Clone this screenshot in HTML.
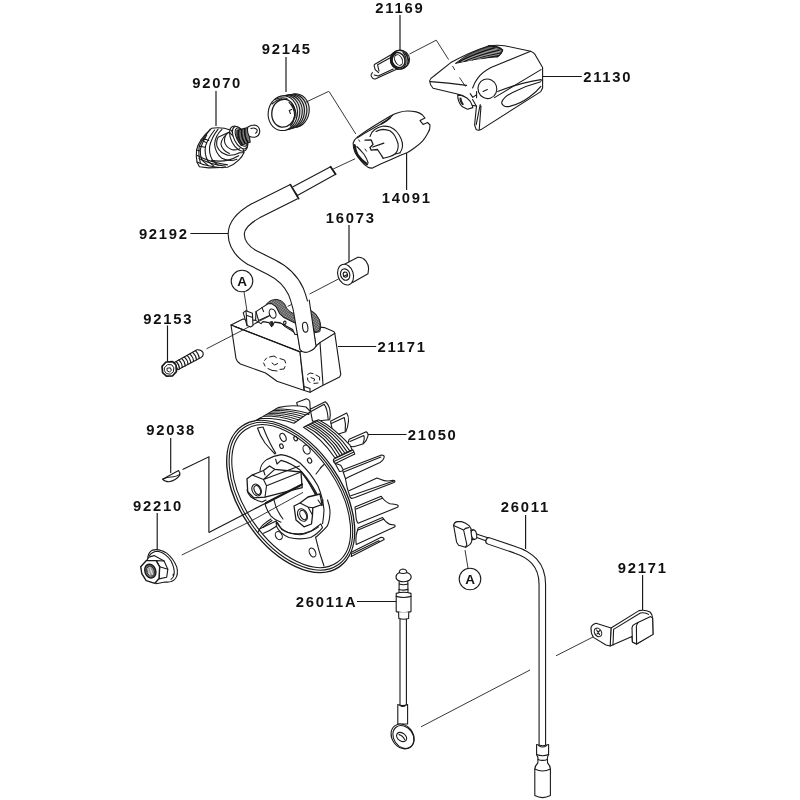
<!DOCTYPE html>
<html><head><meta charset="utf-8"><title>Parts diagram</title>
<style>
html,body{margin:0;padding:0;background:#fff;}
body{width:800px;height:800px;overflow:hidden;font-family:"Liberation Sans",sans-serif;}
svg{display:block;filter:blur(0.45px);}
.lb{font-family:"Liberation Sans",sans-serif;font-weight:bold;font-size:14.8px;letter-spacing:1.75px;fill:#111;}
.ld{fill:none;stroke:#161616;stroke-width:1.15;}
.ld2{fill:none;stroke:#222;stroke-width:0.9;}
.s{fill:none;stroke:#1a1a1a;stroke-width:1.1;stroke-linecap:round;stroke-linejoin:round;}
.sw{fill:#fff;stroke:#1a1a1a;stroke-width:1.1;stroke-linecap:round;stroke-linejoin:round;}
.t{fill:none;stroke:#333;stroke-width:0.8;stroke-linecap:round;stroke-linejoin:round;}
.tw{fill:#fff;stroke:#333;stroke-width:0.8;stroke-linecap:round;stroke-linejoin:round;}
.d{fill:none;stroke:#222;stroke-width:1;stroke-dasharray:5 3;}
.k{fill:#222;stroke:none;}
</style></head>
<body>
<svg width="800" height="800" viewBox="0 0 800 800">
<rect x="0" y="0" width="800" height="800" fill="#fff"/>
<text class="lb" x="375.30" y="12.50">21169</text>
<text class="lb" x="261.80" y="54.00">92145</text>
<text class="lb" x="192.20" y="88.00">92070</text>
<text class="lb" x="583.20" y="82.00">21130</text>
<text class="lb" x="381.80" y="203.40">14091</text>
<text class="lb" x="138.90" y="238.90">92192</text>
<text class="lb" x="325.80" y="223.00">16073</text>
<text class="lb" x="143.30" y="323.50">92153</text>
<text class="lb" x="377.60" y="352.00">21171</text>
<text class="lb" x="146.20" y="434.50">92038</text>
<text class="lb" x="407.70" y="440.20">21050</text>
<text class="lb" x="133.10" y="511.00">92210</text>
<text class="lb" x="500.80" y="512.00">26011</text>
<text class="lb" x="295.80" y="607.00">26011A</text>
<text class="lb" x="617.80" y="573.00">92171</text>
<path class="ld" d="M400.0 15.0L400.0 50.0M286.0 57.0L286.0 92.0M216.0 91.0L216.0 126.0M542.7 76.5L581.8 76.5M406.6 152.6L406.6 190.0M190.4 233.5L228.9 233.5M349.0 225.0L349.0 262.0M167.5 325.5L167.5 361.5M338.0 346.5L376.2 346.5M170.7 438.0L170.7 473.0M367.6 434.5L406.5 434.5M157.2 513.0L157.2 550.0M525.6 515.0L525.6 549.0M357.0 601.5L396.0 601.5M642.6 575.0L642.6 610.0"/>
<!-- 01_spring21169.svg -->
<g id="spring21169">
<path class="s" d="M 397.5 51.0 L 374.8 64.2 Q 373.8 65.0 374.2 66.2 L 375.2 69.6 L 378.6 72.6 M 393.8 55.8 L 377.6 64.8 L 379.0 71.0 M 397.2 69.0 L 375.2 79.0 Q 373.6 79.2 372.6 78.2 L 371.2 76.0 Q 370.6 74.2 372.4 72.6 M 393.2 69.0 L 378.2 76.0 L 374.2 75.0"/>
<ellipse class="sw" cx="400.2" cy="59.6" rx="9.4" ry="9.4" transform="rotate(-25 400.2 59.6)"/>
<ellipse class="s" cx="399.4" cy="59.8" rx="9" ry="9.4" transform="rotate(-25 399.4 59.8)"/>
<ellipse cx="398.4" cy="60" rx="6.4" ry="7.8" transform="rotate(-25 398.4 60)" fill="none" stroke="#1a1a1a" stroke-width="1.5"/>
<path d="M395.6 52.6Q390.6 56 391.6 62.6Q393.4 67.6 398.6 68.6" fill="none" stroke="#1a1a1a" stroke-width="2.6"/>
<ellipse cx="398.6" cy="60" rx="3.6" ry="5.6" transform="rotate(-25 398.6 60)" fill="#fff" stroke="#1a1a1a" stroke-width="1"/>
<path class="s" d="M 403.0 52.5 Q 406.8 56.5 406.0 63.5 Q 405.0 67.0 402.0 68.8 M 405.2 53.5 Q 408.6 58.0 407.8 63.5"/>
<path class="ld2" d="M409.5 54L436.3 40.2L448.6 59.6"/>
</g>
<!-- 02_cover21130.svg -->
<g id="cover21130">
<!-- small lug under -->
<path class="sw" d="M457.8 94.2Q457.2 101 462 106.5L467.5 109.2L472.8 107.6L471 99Z"/>
<path class="k" d="M459.6 97.5Q458.8 101.5 462.4 105.2L464 104.6Q461.4 101 461.4 97.8Z"/>
<!-- main outline -->
<path class="sw" d="M429.6 81Q430.2 78.2 434 76L450.8 62.6Q468 52.6 488.4 45.9Q497 44.6 504.4 45.7L530.6 51.2Q533.6 52.2 535 54.4L542.6 67.6L542.6 88L540.8 91.6L481 129.6Q478.4 130.8 476.2 129.6L474.6 125L476.2 108.6L476.6 106L472.2 105.4Q470.6 100.6 467.2 98.2Q463 95 457.4 94L433 88.2Q430.2 85.6 429.6 81Z"/>
<!-- front face boundary -->
<path class="s" d="M530.6 51.2L491 67.6Q482.4 72 477.8 78.2Q474.4 82.6 472.6 88"/>
<!-- nose crease -->
<path class="s" d="M430.4 81.6Q448 82.6 466.6 85.4"/>
<!-- hatch (vent) -->
<path d="M455.4 63.4Q463 57 472.6 52.6Q481 48.6 490 46.2Q498 46.2 502.6 50Q501.6 54 497.4 56.8Q486 57.6 474 59.6Q464 61.4 455.4 63.4Z" fill="#6a6a6a" stroke="#1a1a1a" stroke-width="1"/>
<path d="M459 61.8Q475 53.4 495 47.6 M464 61.4Q480 54.6 499.6 50 M472 60Q486 55.6 501 53 M481 58.6Q491 56.4 499.6 55.4" fill="none" stroke="#111" stroke-width="1.1"/>
<path d="M461.6 61.7Q477 54.2 497 48.8 M468 60.8Q483 55.2 500.4 51.4 M476.6 59.4Q488.6 56 500.4 54.2" fill="none" stroke="#ddd" stroke-width="0.5"/>
<path class="s" d="M488.4 45.9Q498 45.6 502.8 49.8Q501.6 54.4 497 57"/>
<!-- side crease lines -->
<path class="s" d="M494.4 97.6L541 69.6"/>
<path class="s" d="M497.6 91.6Q520 82.6 541 79.6L542.6 81"/>
<!-- recess ellipse -->
<path class="s" d="M540.8 81.8Q527 85.4 512.6 92.4Q503 97.4 501.6 102.6Q502.8 107.6 509.6 106.4Q520 104 529.4 97Q536.6 92 540.8 86.4"/>
<!-- bottom fin -->
<path class="s" d="M480.2 104.6L476.2 124.6 M481 106L479.2 129.8 M472.6 99.4L476.4 106.2"/>
<!-- circle -->
<ellipse class="sw" cx="487.4" cy="88.8" rx="9.4" ry="9.8" transform="rotate(-20 487.4 88.8)"/>
<path class="s" d="M483 91.4L487.4 89.6"/>
<!-- little L marks -->
<path class="s" d="M470.2 93.6L472.8 97.4L476.6 94.6 M476.6 91.6L476.6 97.8"/>
<!-- dashed leader inside -->
<path class="ld2" d="M452.5 66L454.8 70 M459.5 77.5L465.5 86.5"/>
</g>
<!-- 03_cap14091.svg -->
<g id="cap14091">
<path class="ld2" d="M329 91.4L355.8 134"/>
<path class="sw" d="M 353.1 143.1 Q 354.0 139.8 357.5 136.9 L 367.5 130.0 L 377.5 123.8 L 390.0 116.2 Q 394.5 113.8 398.8 112.5 Q 403.1 111.0 407.5 111.0 Q 412.2 111.0 416.2 111.9 Q 420.0 113.0 422.5 115.0 L 425.0 118.1 L 420.0 120.6 L 423.1 124.4 L 427.5 122.5 L 430.0 125.0 Q 430.5 129.4 427.5 133.8 Q 425.5 137.5 422.5 141.2 Q 419.0 144.8 415.0 147.5 Q 411.5 150.2 407.5 152.5 L 400.0 155.6 L 390.0 160.0 L 381.2 163.8 L 372.5 168.1 Q 369.8 168.2 367.5 166.9 Q 364.0 164.8 361.2 161.2 Q 357.2 156.5 355.0 152.5 Q 353.2 148.0 353.1 143.1 Z"/>
<path class="s" d="M 357.5 137.8 Q 363.8 133.5 369.0 130.8 Q 376.2 126.5 381.5 123.8 Q 386.5 121.0 389.8 118.2 Q 391.2 116.8 392.5 115.2"/>
<path class="s" d="M 381.5 123.8 Q 386.5 121.0 390.0 117.8" style="stroke-width:1.7"/>
<path class="s" d="M 370.0 136.5 Q 371.2 132.2 374.4 129.8 Q 378.1 126.8 382.5 126.2 Q 386.5 126.0 390.2 127.0 Q 394.0 128.8 396.5 131.5 Q 399.8 135.2 401.2 139.0 Q 402.8 143.0 402.5 146.5 Q 402.0 150.0 400.0 152.8"/>
<path class="s" d="M 376.0 131.5 Q 379.0 129.8 382.8 129.4 Q 386.5 129.5 390.0 130.8 Q 393.0 133.0 395.0 136.2 Q 397.2 140.2 398.1 144.0 Q 398.5 147.5 397.5 150.2 Q 396.5 152.5 395.0 154.0"/>
<path class="s" d="M 383.1 158.2 Q 386.5 157.8 390.0 156.5 Q 393.0 155.5 395.0 154.0 Q 397.8 153.5 400.0 152.8"/>
<path class="s" d="M 365.0 140.2 L 371.2 140.0 L 373.1 144.4 L 370.0 147.5 L 371.2 150.2 L 377.5 149.5 L 381.2 155.0 L 383.1 158.2 M 372.8 147.0 L 383.8 143.1" style="stroke-width:1.3"/>
<path class="s" d="M 358.8 139.8 L 359.8 141.5 M 365.0 149.0 L 366.5 151.2" style="stroke-width:.9"/>
<path class="s" d="M 354.5 145.2 Q 355.0 150.0 357.5 155.0 Q 361.5 160.8 367.0 164.2" style="stroke-width:2.4"/>
<path class="s" d="M 356.8 146.5 Q 360.0 149.5 363.8 154.0 Q 366.9 158.5 368.2 163.0"/>
<path class="ld2" d="M355 158.8L333.2 169"/>
</g>
<!-- 04_spring92145.svg -->
<g id="spring92145">
<ellipse cx="295.2" cy="110.6" rx="14.0" ry="16.8" transform="rotate(8 295.2 110.6)" fill="#e2e2e2" stroke="#1a1a1a" stroke-width="1.1"/>
<ellipse cx="292.7" cy="111.1" rx="14.1" ry="16.9" transform="rotate(8 292.7 111.1)" fill="#e2e2e2" stroke="#1a1a1a" stroke-width="1.1"/>
<ellipse cx="290.2" cy="111.6" rx="14.2" ry="17.0" transform="rotate(8 290.2 111.6)" fill="#e2e2e2" stroke="#1a1a1a" stroke-width="1.1"/>
<ellipse cx="287.8" cy="112.2" rx="14.4" ry="17.2" transform="rotate(8 287.8 112.2)" fill="#e2e2e2" stroke="#1a1a1a" stroke-width="1.1"/>
<ellipse cx="285.3" cy="112.7" rx="14.5" ry="17.3" transform="rotate(8 285.3 112.7)" fill="#e2e2e2" stroke="#1a1a1a" stroke-width="1.1"/>
<ellipse cx="282.8" cy="113.2" rx="14.6" ry="17.4" transform="rotate(8 282.8 113.2)" fill="#fff" stroke="#1a1a1a" stroke-width="1.1"/>
<ellipse class="sw" cx="283.4" cy="113.2" rx="11.6" ry="14" transform="rotate(8 283.4 113.2)" style="stroke-width:1.3"/>
<path class="s" d="M275 99.6Q281 96.6 287 98.6 M272 104Q276.6 99.6 282 99"/>
<path class="s" d="M289 102.4Q294.4 107.6 294.6 115.4Q294.2 122 290.4 126 M291.6 109.6L289.2 110.4L290.4 113.6 M292 104.4Q296.6 109.6 296 118"/>
<path class="ld2" d="M305.4 102.4L328.6 91.4"/>
</g>
<!-- 05_plug92070.svg -->
<g id="plug92070">
<path class="sw" d="M 211.6 128.3 Q 205.0 133.9 201.2 139.6 Q 197.5 145.2 196.6 149.9 Q 195.8 155.5 197.0 162.1 L 199.4 166.7 L 208.7 167.9 L 227.5 167.2 Q 234.1 164.9 238.7 160.2 Q 242.5 156.4 243.9 152.7 L 231.2 130.2 Q 220.9 126.6 211.6 128.3 Z"/>
<path class="s" d="M 214.6 130.0 Q 207.8 138.6 205.5 146.1 Q 204.1 153.6 207.8 161.1 L 213.9 166.2 M 206.7 135.3 Q 201.7 143.3 200.3 149.9 Q 199.8 155.5 202.2 160.4 L 208.3 165.6 M 201.2 139.7 L 206.1 142.6"/>
<path class="s" d="M 197.3 155.5 Q 208.7 161.9 227.5 164.9 M 197.0 162.1 Q 206.9 166.9 222.8 167.7 M 211.7 160.4 Q 225.6 163.2 238.7 155.7 M 196.6 149.9 L 200.1 151.0"/>
<path class="sw" d="M 218.1 137.2 Q 215.5 142.4 217.4 147.2 Q 220.2 152.9 227.5 155.1 Q 234.1 155.7 238.9 152.9 L 243.9 152.5 L 242.5 146.1 L 229.4 132.1 Z"/>
<path class="s" d="M 226.1 134.5 Q 223.6 139.1 224.9 143.1 Q 227.0 148.0 232.2 149.7 Q 236.9 150.4 239.9 148.6"/>
<path class="s" d="M 210.4 129.1 Q 203.1 138.2 199.2 146.1 Q 198.1 155.5 200.5 163.2 M 218.1 129.2 Q 211.6 137.7 209.7 146.1 Q 208.7 153.6 212.5 160.2 L 218.1 165.3 M 203.1 138.2 L 208.7 140.5 M 199.2 146.1 L 205.0 147.2 M 198.9 158.3 Q 208.7 164.1 225.6 166.3"/>
<path class="s" d="M 221.9 129.4 Q 215.1 135.8 214.6 144.2 Q 215.1 152.7 221.9 158.3 Q 229.4 162.1 236.9 159.2 M 229.4 132.1 Q 221.9 136.7 220.9 144.2 Q 222.3 150.8 229.4 153.6"/>
<ellipse class="s" cx="238.6" cy="138.6" rx="7.4" ry="13.6" transform="rotate(-27 238.6 138.6)"/>
<ellipse class="sw" cx="240.1" cy="137.7" rx="6" ry="12.2" transform="rotate(-27 240.1 137.7)"/>
<ellipse class="s" cx="241.2" cy="137.1" rx="4.6" ry="10" transform="rotate(-27 241.2 137.1)"/>
<path d="M 236.9 130.4 L 248.1 127.4 L 250.2 142.2 L 241.1 145.4 Q 235.9 138.6 236.9 130.4 Z" fill="#777" stroke="#1a1a1a" stroke-width="1.1"/>
<path d="M 238.7 130.0 Q 237.3 138.2 242.5 144.7 M 241.7 129.2 Q 240.6 137.2 245.3 143.8 M 244.8 128.3 Q 243.9 136.3 248.1 142.8" fill="none" stroke="#111" stroke-width="1.6"/>
<path class="sw" d="M 247.9 127.0 Q 250.9 125.0 254.7 125.0 Q 259.4 126.0 259.8 131.1 Q 259.4 136.3 254.7 137.3 Q 250.9 137.5 248.9 135.8 Q 246.7 131.1 247.9 127.0 Z"/>
<path class="s" d="M 250.9 128.5 Q 254.7 127.0 257.0 129.7 Q 257.7 132.1 255.6 133.2"/>
</g>
<!-- 06_bushing16073.svg -->
<g id="bushing16073">
<path class="sw" d="M343.6 264.8L357.4 257.4Q362 256.6 365.8 260.8Q368.6 264.6 368.6 268.6L368 273.8L352.6 282.6Z"/>
<ellipse class="sw" cx="345.6" cy="274.6" rx="7.7" ry="10.6" transform="rotate(-18 345.6 274.6)"/>
<ellipse class="s" cx="345.2" cy="274.6" rx="4.6" ry="5.8" transform="rotate(-18 345.2 274.6)"/>
<ellipse class="s" cx="345.4" cy="274.6" rx="2.1" ry="2.6" transform="rotate(-18 345.4 274.6)"/>
<path class="s" d="M343.6 276.4L347.4 274.4"/>
<path class="ld2" d="M338.8 278.8L309.6 294"/>
</g>
<!-- 08_coil21171.svg -->
<g id="coil21171">
<!-- axis line from screw through hole to bushing -->
<!-- box: top face -->
<path class="sw" d="M231 325L243 319L324.4 327.6L333.6 331.4Q334.8 332 334.8 333.4L320 342.6L316 346L300 352Z"/>
<!-- front (left) face -->
<path class="sw" d="M231 325L300 352L303.8 388.6L304.4 390.4L277 381.2L265.6 373L240.4 364Q236.8 361.6 236 358.6Z"/>
<!-- narrow front-right face + right face -->
<path class="sw" d="M300 352L316 346L320 342.6L334.8 333.4L340.8 374.6L339.6 377L322.6 385.6L310 392.2L304.4 390.4L304 386.4Z"/>
<path class="s" d="M320 342.6L323 384.6"/>
<path class="s" d="M304 386.4L310 388.6L310 392.2"/>
<path class="ld2" d="M206.5 348.8L269.6 316.2"/>
<!-- top rim inner line -->
<path class="s" d="M234.6 326.4L299.6 351.6"/>
<!-- coil winding (cross-hatched) -->
<defs><pattern id="xh" width="2" height="2" patternUnits="userSpaceOnUse" patternTransform="rotate(35)"><rect width="2" height="2" fill="#aaa"/><path d="M0 0H2M0 0V2" stroke="#222" stroke-width="0.9"/></pattern></defs>
<path d="M266.6 304Q270 299.4 277 299.4Q282.6 300.4 284.6 304Q286.6 309.6 290 311.6L298 316.4L320 322Q321.6 327 319.8 331.6L300 336L284 326L270 312Z" fill="url(#xh)" stroke="#222" stroke-width="1"/>
<path d="M309.6 309.6Q316.6 313 319.6 320Q321 326 319.6 329.6Q317.6 332.6 314.6 332L311 322Z" fill="url(#xh)" stroke="#222" stroke-width="1"/>
<!-- lamination / bracket on top -->
<path class="sw" d="M255.6 320.4L256 311.6L262 307.6L268 303.8L271.6 303.6L276 306.6L279.6 313.6L284 317.6L296 323.4L298.6 334.6L295 334.4L292.6 329.6L279.6 322.6L274.6 322L271.6 326.6L269 322.6L263 321.6L261 323.6Z"/>
<path class="s" d="M256 311.6L258.6 320.6L269.6 315.6 M262 307.6L263.6 311.6"/>
<path class="k" d="M269.6 321.6L272.6 321L274 325L271.6 326.6Z"/>
<ellipse class="sw" cx="272.6" cy="313.6" rx="3.2" ry="4.8" transform="rotate(-20 272.6 313.6)"/>
<ellipse class="s" cx="284.8" cy="322.8" rx="1.2" ry="1.7"/>
<path class="ld2" d="M287.6 306.4L291.6 304.4"/>
<path class="ld2" d="M254.6 323.6L269.2 316.2"/>
<!-- terminal tab -->
<path class="sw" d="M243.2 312.6L246 310.8L252.4 313.2L253 325.6L250.6 327L247 325.4Z"/>
<path class="s" d="M246 310.8L247 325.4 M247 315.6L252.6 317.6"/>
<!-- dashed hidden shapes -->
<path class="s" d="M264.6 360.4L266.6 358 M269.6 357L274 356L276.4 357.6 M280 358.6L284.6 360L285.6 363 M285 366.6L284 369L280 369.4 M277 371L272 370.4L268 368.6 M265 366L263.6 363 M272 363L274.6 365L277.6 363.6" style="stroke-width:1"/>
<path class="s" d="M307.6 374.6L310 373L313 373.6 M316 375L319.6 377L319.6 380 M318 383L314 383.4 M310 382.6L307.6 380L307.6 378 M311 377.6L314.6 379L314 381" style="stroke-width:1"/>
</g>
<!-- 08b_wire92192.svg -->
<g id="wire92192">
<!-- inner conductor -->
<path class="sw" d="M291.6 187.4L330.6 166.8L335.6 174.2L297.4 195.4Z"/>
<path class="s" d="M330.6 166.8L335.6 174.2" style="stroke-width:1.8"/>
<!-- sheath: black then white core -->
<path d="M294 191.6L256 210.6Q236.4 221.6 236.2 234Q236.4 248 252 257.6Q262 262.4 271 267Q288.6 275.6 296 291.6Q300.6 303 304.4 324L308 348" fill="none" stroke="#1a1a1a" stroke-width="17.2" stroke-linecap="butt" stroke-linejoin="round"/>
<path d="M294.9 191.1L256 210.6Q236.4 221.6 236.2 234Q236.4 248 252 257.6Q262 262.4 271 267Q288.6 275.6 296 291.6Q300.6 303 304.4 324L308.2 349" fill="none" stroke="#fff" stroke-width="15" stroke-linecap="butt" stroke-linejoin="round"/>
<path class="s" d="M290.4 184.6L298.6 198.6" style="stroke-width:1.8"/>
</g>
<!-- 09_wireboot.svg -->
<g id="wireboot">
<!-- boot lower part over coil -->
<path class="sw" d="M293.4 312L300 349.6Q303 353.4 308.6 351.6Q314.6 349.6 316 346L309.4 300Z" style="stroke:none"/>
<path class="s" d="M293.6 312L300 349.6Q303 353.6 308.6 351.8Q314.6 349.6 316 346L309.2 300"/>
<ellipse class="sw" cx="305.2" cy="327.2" rx="2.6" ry="5" transform="rotate(-8 305.2 327.2)"/>
</g>
<!-- 10_screw92153.svg -->
<g id="screw92153">
<path class="sw" d="M174.4 362.4L197 349.8Q201.4 349.4 203 352.6Q203.8 355.8 201 357.4L177.8 369.8Z"/>
<path class="s" d="M176.1 361.5Q179.4 364.6 179.5 368.9 M178.8 359.9Q182.2 363.1 182.3 367.4 M181.6 358.4Q185.0 361.5 185.2 365.9 M184.3 356.9Q187.8 360.0 188.0 364.4 M187.1 355.3Q190.5 358.5 190.8 362.8 M189.8 353.8Q193.3 357.0 193.6 361.3 M192.6 352.3Q196.1 355.4 196.5 359.8 M195.3 350.7Q198.9 353.9 199.3 358.3"/>
<path class="sw" d="M162 366.4L166 362L172.6 361.6L176 365L176.4 371.6L172.4 376L166.4 376.2L162.6 372.6Z" style="stroke-width:1.7"/>
<path class="s" d="M164.6 367.6L167.6 364.6L171.8 364.8L173.8 367.8L173.4 371.8L170.2 374.2L166.4 373.6L164.6 371Z M167.4 368.2L170.4 367.8L171.4 370.4L169.4 372L167.4 371Z" style="stroke-width:1"/>
</g>
<!-- 11_circleA.svg -->
<g id="circleA">
<circle class="sw" cx="242" cy="281" r="10.8"/>
<text x="242" y="286" text-anchor="middle" style="font-family:'Liberation Sans',sans-serif;font-weight:bold;font-size:13.5px;fill:#111">A</text>
<path class="ld2" d="M244 291.8L247 311"/>
<circle class="sw" cx="470" cy="579" r="10.8"/>
<text x="470" y="584" text-anchor="middle" style="font-family:'Liberation Sans',sans-serif;font-weight:bold;font-size:13.5px;fill:#111">A</text>
<path class="ld2" d="M465 550L468 568.2"/>
</g>
<!-- 12_flywheel.svg -->
<g id="flywheel21050">
<path class="sw" d="M 296.7 402.5 L 306.5 398.7 Q 309.2 399.5 309.8 401.7 L 310.2 409.2 L 308.7 414.5 L 299.0 411.5 Z M 310.2 409.2 L 325.2 401.7 Q 328.7 404.3 329.9 410.0 Q 330.8 415.2 329.7 419.7 L 312.5 421.2 Z M 330.5 421.2 L 346.7 413.0 Q 348.8 416.0 348.5 421.2 Q 347.9 427.2 345.8 431.7 L 333.5 435.5 Z M 349.2 439.2 L 366.2 431.7 Q 368.6 433.4 368.0 435.8 Q 366.8 440.6 363.5 443.7 L 353.7 446.7 L 347.0 446.0 Z"/>
<path class="s" d="M 311.0 411.5 L 324.2 404.3 Q 327.5 408.5 328.2 419.7 M 331.2 423.5 L 344.3 417.5 Q 346.1 423.5 345.2 431.3 M 350.0 441.5 L 363.8 435.5 Q 365.0 438.5 363.0 443.3"/>
<path class="sw" d="M 342.5 470.0 L 381.5 455.0 Q 384.2 455.0 384.2 456.8 Q 383.9 460.1 380.0 462.5 L 349.2 476.7 L 345.5 478.7 Z"/>
<path class="s" d="M 343.7 472.1 L 380.9 457.1"/>
<path class="sw" d="M 345.5 479.0 Q 346.5 487.0 350.0 497.0 L 351.5 498.5 L 355.0 497.5 L 394.0 482.5 Q 395.4 481.5 394.8 480.8 L 393.0 480.2 Q 386.0 482.0 381.0 479.5 L 377.0 478.0 L 349.5 490.5"/>
<path class="s" d="M 350.8 495.8 L 393.8 481.0"/>
<path class="sw" d="M 355.0 506.9 L 381.2 496.2 Q 385.0 501.9 390.0 503.8 Q 395.0 504.4 397.5 505.0 Q 399.0 506.0 397.5 507.2 L 358.1 523.2 Q 357.0 522.5 356.2 518.8 Z"/>
<path class="s" d="M 356.2 509.0 L 382.2 498.2"/>
<path class="sw" d="M 358.1 528.1 L 382.5 517.5 Q 385.6 522.5 390.0 524.4 L 394.5 525.0 Q 395.8 526.0 394.5 527.1 L 356.2 544.5 Q 355.6 540.0 356.2 535.0 Z"/>
<path class="s" d="M 357.5 530.2 L 383.5 519.2"/>
<path class="sw" d="M 351.9 551.9 L 381.2 537.2 Q 384.0 537.5 384.2 539.5 L 351.2 556.5 Z"/>
<path class="s" d="M 352.8 553.5 L 378.8 540.8 L 379.5 541.5"/>
<path class="sw" d="M 250.0 423.8 L 253.0 422.0 L 261.0 417.6 L 278.0 407.6 Q 292.0 404.2 306.0 407.0 L 310.4 411.6 L 294.0 423.2 Q 280.0 418.2 261.0 418.2 Z"/>
<path class="s" d="M 263.4 416.3 Q 278.9 415.1 296.3 421.5 M 265.9 414.9 Q 281.3 413.8 298.7 419.9 M 268.3 413.4 Q 283.7 412.4 301.0 418.2 M 270.7 412.0 Q 286.0 411.1 303.4 416.6 M 273.1 410.5 Q 288.4 409.7 305.7 414.9 M 275.6 409.1 Q 290.8 408.4 308.1 413.3" style="stroke-width:1"/>
<path class="sw" d="M 303.5 427.2 L 318.5 419.7 Q 333.5 427.2 350.0 445.2 L 352.2 449.7 L 335.0 458.0 Q 322.2 438.5 303.5 427.2 Z"/>
<path class="s" d="M 305.6 426.2 Q 326.3 436.5 337.4 456.8 M 307.8 425.1 Q 328.4 435.5 339.9 455.6 M 309.9 424.1 Q 330.5 434.6 342.3 454.4 M 312.0 422.9 Q 332.7 433.5 344.9 453.3 M 314.1 421.8 Q 335.0 432.5 347.3 452.1 M 316.4 420.8 Q 337.1 431.6 349.8 450.9"/>
<path class="sw" d="M 335.0 463.2 L 339.5 471.5 Q 341.7 471.8 343.2 469.7 L 340.7 465.2 Z"/>
<path class="sw" d="M 333.5 459.2 L 353.0 449.9 L 354.8 454.1 L 335.3 463.4 Q 332.9 462.2 333.5 459.2 Z"/>
<path class="s" d="M 334.4 461.3 L 353.9 452.0"/>
<ellipse class="sw" cx="290.7" cy="496.4" rx="85.6" ry="50.6" transform="rotate(55.4 290.7 496.4)" style="stroke-width:1.35"/>
<ellipse class="s" cx="290.9" cy="496.3" rx="83.2" ry="48.3" transform="rotate(55.4 290.9 496.3)"/>
<ellipse class="s" cx="291.2" cy="496.1" rx="80.7" ry="45.9" transform="rotate(55.4 291.2 496.1)"/>
<path class="s" d="M 257.5 428.0 Q 260.0 436.0 265.0 443.0 Q 270.0 449.0 275.0 454.0 M 263.0 427.0 Q 266.0 435.0 270.0 443.0 Q 273.0 449.0 275.8 453.2 M 257.5 428.0 L 263.0 427.0"/>
<path class="s" d="M 324.0 464.5 Q 321.0 467.0 319.5 469.5 L 316.0 474.0"/>
<path class="s" d="M 315.5 537.0 Q 319.0 552.0 324.0 566.0"/>
<path class="s" d="M 271.0 519.0 Q 264.0 523.5 261.5 526.5 Q 259.2 529.2 258.2 532.0 M 272.0 520.5 Q 266.0 524.5 263.0 527.5"/>
<ellipse class="s" cx="283.0" cy="437.4" rx="2.8" ry="4.3" transform="rotate(-25 283.0 437.4)"/>
<ellipse class="s" cx="281.5" cy="446.2" rx="1.7" ry="2.3" transform="rotate(-25 281.5 446.2)"/>
<ellipse class="s" cx="295.6" cy="438.6" rx="1.7" ry="2.3" transform="rotate(-25 295.6 438.6)"/>
<ellipse class="s" cx="306.6" cy="449.6" rx="3.3" ry="4.7" transform="rotate(-25 306.6 449.6)"/>
<ellipse class="s" cx="309.6" cy="460.6" rx="2" ry="2.7" transform="rotate(-25 309.6 460.6)"/>
<ellipse class="s" cx="278.8" cy="535.6" rx="3.2" ry="4.3" transform="rotate(-30 278.8 535.6)"/>
<ellipse class="s" cx="312.5" cy="552.5" rx="3.0" ry="4.8" transform="rotate(-25 312.5 552.5)"/>
<path class="s" d="M260 471 Q260.6 463.6 267 459.4 Q273.6 455.6 281 454.6 Q291 456 300 463 Q310 472 318 486 Q323 498 324 510 Q323.6 518 322.6 523.6"/>
<path class="s" d="M275.6 459.2 L277 464 L281 460.4 Q291 463 300 470 Q308 480 314 492 Q317.6 499 319 503.4"/>
<path class="s" d="M300.6 471 Q312 486 322 505.6 L318.6 497 Q311 482 302 472 Z" style="fill:#555"/>
<path class="s" d="M 327.5 500.0 Q 330.2 507.0 330.0 513.0 Q 329.6 521.5 327.2 526.2 Q 324.0 530.0 316.2 537.0"/>
<path class="sw" d="M 276.1 521.1 Q 278.9 528.6 288.0 532.5 Q 300.2 536.0 311.6 530.7 L 320.9 523.9 L 322.5 527.7 Q 317.7 534.0 310.7 537.5 Q 299.4 540.3 288.9 537.5 Q 280.1 534.0 276.4 526.3 Z"/>
<path class="s" d="M 277.5 522.5 L 281.7 529.5 M 281.7 529.5 Q 289.7 534.4 300.2 534.7 Q 309.9 533.3 318.6 526.9 M 260.0 528.8 L 276.1 521.1 M 263.5 533.3 Q 270.5 530.5 276.4 526.3"/>
<path class="s" d="M 265.0 504.0 Q 267.0 511.0 271.0 516.2 Q 275.0 520.5 281.0 522.2 M 274.0 500.0 Q 275.5 507.0 278.2 511.5 Q 280.5 516.0 283.0 519.0"/>
<path class="sw" style="stroke-width:1.3" d="M 247.0 478.7 L 252.2 475.0 L 263.5 470.5 L 269.5 466.0 L 274.7 469.3 L 301.0 472.0 L 301.7 481.7 L 302.2 487.7 L 265.0 497.2 L 253.7 497.8 L 247.7 491.8 Z"/>
<path class="s" d="M 252.2 475.0 L 263.5 479.5 L 266.5 485.8 L 265.0 497.2 M 263.5 479.5 L 274.7 469.3 M 263.5 470.5 L 265.0 475.0 M 266.5 485.8 L 301.0 472.0 M 263.5 479.5 L 299.5 466.0"/>
<ellipse class="sw" cx="256.6" cy="490" rx="4.4" ry="6.2" transform="rotate(-25 256.6 490)"/>
<ellipse class="s" cx="257.3" cy="490" rx="2.9" ry="4.6" transform="rotate(-25 257.3 490)"/>
<path class="s" d="M 247.0 490.0 Q 248.2 494.5 251.0 497.0 Q 256.0 500.5 262.0 502.0 L 266.0 500.0"/>
<path class="s" d="M266 503 L302 484.4" style="stroke-width:2.2"/>
<path class="ld" d="M208.9 532.5 L266 503"/>
<path class="ld2" d="M181.8 555 L250 521.6 L303 492.4"/>
<path class="sw" style="stroke-width:1.3" d="M 294.0 506.0 L 300.0 503.0 L 308.0 497.0 L 320.0 494.0 L 322.0 504.5 L 312.8 507.8 L 312.5 515.0 L 311.5 524.0 L 304.0 526.8 L 296.0 520.0 Z"/>
<path class="s" d="M 300.0 503.0 L 308.0 507.0 L 312.5 515.0 M 308.0 507.0 L 312.8 507.8 M 318.0 500.0 L 321.8 505.5 L 323.0 500.0"/>
<ellipse class="sw" cx="302.5" cy="515" rx="4.6" ry="6.6" transform="rotate(-25 302.5 515)"/>
<ellipse class="s" cx="303.2" cy="515" rx="3" ry="4.9" transform="rotate(-25 303.2 515)"/>
</g>
<!-- 13_key_nut.svg -->
<g id="key92038">
<path class="sw" d="M162.6 479.2L178.6 470.6Q180.4 472.6 179.6 475.4Q176 480.6 169 481.8Q164.6 481.8 162.6 479.2Z"/>
<path class="s" d="M162.6 479.2Q168 476.6 172 477Q176.6 476.6 179.8 474.4"/>
<path class="ld" d="M182.6 469.4L208.9 456.8L208.9 532.5"/>
</g>
<g id="nut92210">
<path class="sw" d="M 147.9 556.6 Q 148.8 552.2 152.7 550.1 Q 158.9 548.3 166.7 553.1 Q 173.7 558.8 176.8 567.1 Q 178.6 574.1 175.5 578.5 Q 172.0 582.9 165.0 582.0 L 156.2 583.7 L 147.5 566.2 Z"/>
<path class="s" d="M 149.4 555.6 Q 151.9 551.4 158.0 551.2 Q 165.9 553.1 171.1 561.0 Q 174.6 568.0 174.2 573.7 L 172.9 575.0 M 174.2 573.7 Q 173.7 577.6 171.1 579.4"/>
<path class="sw" d="M 146.6 560.6 L 148.8 557.1 L 154.1 555.6 L 164.1 561.0 L 167.8 569.3 L 166.7 577.2 L 159.0 578.9 L 159.6 566.7 L 156.2 560.6 Z"/>
<path class="s" d="M 156.2 560.6 L 164.1 561.0 M 159.6 566.7 L 167.8 569.3"/>
<path class="sw" d="M 140.7 566.7 L 146.4 560.6 L 156.2 560.6 L 159.7 566.9 L 159.0 578.5 L 154.9 583.3 L 146.2 580.7 L 141.8 573.7 Z" style="stroke-width:1.4"/>
<ellipse cx="150.3" cy="571.1" rx="5.4" ry="7" transform="rotate(-20 150.3 571.1)" fill="#777" stroke="#1a1a1a" stroke-width="1.4"/>
<ellipse cx="150.6" cy="571.1" rx="3.6" ry="5.2" transform="rotate(-20 150.6 571.1)" fill="#999" stroke="#222" stroke-width="0.9"/>
<path d="M 147.5 568.0 L 149.7 574.1 M 149.7 566.7 L 151.9 573.7 M 147.9 572.4 L 151.0 576.7 M 150.6 569.7 L 152.9 575.0" fill="none" stroke="#eee" stroke-width="0.7"/>
</g>
<!-- 14_lead26011A.svg -->
<g id="lead26011A">
<!-- long leader through ring -->
<path class="ld2" d="M421 726.8L530 670 M556 655.8L593 637"/>
<!-- wire -->
<path class="sw" d="M400 618L400 706L406.4 706L406.4 618Z"/>
<!-- connector top -->
<path class="sw" d="M399.4 572.6Q399 569.4 403 569Q407 569.4 406.8 572.6Q411 574 411.2 577Q411 580 407.8 581L408 592.6L399 592.6L399.2 581Q396 580 396 577Q396.2 574 399.4 572.6Z"/>
<path class="s" d="M399.4 572.8Q403 574.2 406.8 572.8 M399.2 581Q403.4 582.6 407.8 581 M399.2 584Q403.4 585.4 407.8 584 M399 589.4Q403.4 590.8 408 589.4"/>
<!-- sleeve -->
<path class="sw" d="M396.2 593.4Q403.6 591.2 411 593.4L411 611.6Q403.6 613.8 396.2 611.6Z"/>
<path class="s" d="M396.2 596.4Q403.6 598.6 411 596.4"/>
<path class="sw" d="M398.6 612.2L398.8 618.4Q403.6 620 408.6 618.4L408.8 612.2"/>
<!-- crimp -->
<path class="sw" d="M397.8 704.6Q402.6 706.6 407.6 704.6L407.6 724L397.8 724Z"/>
<path class="s" d="M399.8 705.4Q402.8 707.6 405.8 705.4"/>
<!-- ring terminal -->
<ellipse class="sw" cx="402.6" cy="736.4" rx="10.6" ry="13.2" transform="rotate(-35 402.6 736.4)"/>
<ellipse class="s" cx="403.4" cy="737" rx="9.6" ry="12.2" transform="rotate(-35 403.4 737)"/>
<ellipse class="sw" cx="401.6" cy="737" rx="5.6" ry="4" transform="rotate(38 401.6 737)"/>
<path class="s" d="M399 734.6Q402.6 735.4 404.6 739.4"/>
</g>
<!-- 15_lead26011.svg -->
<g id="lead26011">
<!-- thin inner wire -->
<path class="s" d="M474.2 533.2L490 538.4 M474 536.4L488.6 541.8"/>
<!-- sheath -->
<path d="M489 541L515 549.8Q527 553.4 534.4 561.4Q542.2 570 542.3 584L542.35 746" fill="none" stroke="#1a1a1a" stroke-width="7.6" stroke-linecap="round"/>
<path d="M489.2 541.1L515 549.8Q527 553.4 534.4 561.4Q542.2 570 542.3 584L542.35 747" fill="none" stroke="#fff" stroke-width="5.4" stroke-linecap="round"/>
<!-- flag terminal -->
<path class="sw" d="M453.6 525.4Q454 522.4 457 521.6L461.6 521.6Q466 522.8 469 525.6L471 528.6L472 540Q471.6 543 469.8 544.6L465.6 547.2L458.6 545.2L456.6 542.2Z"/>
<path class="s" d="M453.6 525.4L463.6 530L466.8 544.4L465.6 547.2 M463.6 530Q465 528 468.6 527.6"/>
<ellipse class="sw" cx="474" cy="534.6" rx="2.6" ry="4.8" transform="rotate(-12 474 534.6)"/>
<path class="s" d="M470.6 530.2L473.4 529.8 M471.6 539.6L474.6 539.4"/>
<!-- bottom connector -->
<path class="sw" d="M536.6 744.6Q542.6 746.8 548.6 744.6L548.6 754.6Q547 757 547.4 759.4L547.6 763Q550.4 766 550.4 769L550.4 795.6Q542.6 799.6 534.8 795.6L534.8 769Q534.8 766 537.8 763L538 759.4Q538.2 757 536.6 754.6Z"/>
<path class="s" d="M538.6 745.6Q542.6 748.4 546.6 745.6 M536.6 754.6Q542.6 757 548.6 754.6 M538 759.4Q542.6 761.4 547.4 759.4 M534.8 769Q542.6 773 550.4 769"/>
</g>
<!-- 16_clamp92171.svg -->
<g id="clamp92171">
<!-- body -->
<path class="sw" d="M611 628L639 610.6Q645 609.4 650 612Q652.6 614.4 652.6 618L653 634.4L636.6 644L632.4 642L632 636.6L610.2 646Z"/>
<path class="s" d="M613.6 629.4L640.4 613Q645 612 648.6 614.4 M613.6 629.4L613 645"/>
<!-- hook flap -->
<path class="sw" d="M632 627.6Q632.4 625 635 624L638 622.6L650.6 616.6L652.6 618L653 634.4L636.6 644L632.4 642Z"/>
<path class="s" d="M636.6 644L636.4 626.6Q636.4 624.6 638 622.6"/>
<!-- tab with hole -->
<path class="sw" d="M591 627.4Q592 624.4 596 623.2L611 628L610.2 646L606 645L593.4 637.4Q590.6 633 591 627.4Z"/>
<ellipse class="sw" cx="598" cy="632.4" rx="3.4" ry="4.6" transform="rotate(-30 598 632.4)"/>
<path class="s" d="M596.6 630L599.6 634.6 M599.6 630.6L597 634"/>
</g>
</svg>
</body></html>
